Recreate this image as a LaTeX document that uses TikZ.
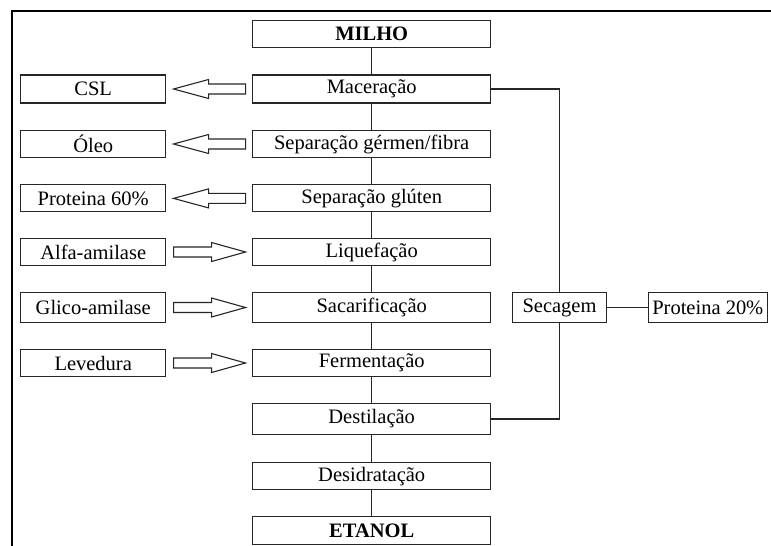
\documentclass[tikz,border=0pt]{standalone}
\usepackage{fontspec}
\setmainfont{Liberation Serif}
\usetikzlibrary{calc}
\tikzset{
  box/.style={draw=black!85, line width=1.1pt, fill=white, inner sep=0pt,
    font=\fontsize{20.5}{24}\selectfont, text=black},
  mainbox/.style={box, minimum width=238pt},
  sidebox/.style={box, minimum width=145pt},
  link/.style={draw=black!85, line width=1.1pt},
  fatarrow/.style={draw=black!85, line width=1.1pt, fill=white, line join=miter},
  frame/.style={draw=black, line width=2pt}
}
\begin{document}
\begin{tikzpicture}[x=1pt, y=-1pt]
\useasboundingbox (0,0) rectangle (771,546);
\draw[frame] (11.7,546) -- (11.7,10.5) -- (771,10.5);

% main column
\node[mainbox, minimum height=27pt] (milho) at (371.7,34) {\textbf{MILHO}};
\node[mainbox, minimum height=28pt] (mac) at (371.7,89) {Maceração};
\node[mainbox, minimum height=27pt] (sepg) at (371.7,144) {Separação gérmen/fibra};
\node[mainbox, minimum height=27pt] (sepgl) at (371.7,198.4) {Separação glúten};
\node[mainbox, minimum height=27pt] (liq) at (371.7,252) {Liquefação};
\node[mainbox, minimum height=30pt] (sac) at (371.7,307.5) {Sacarificação};
\node[mainbox, minimum height=27pt] (ferm) at (371.7,363) {Fermentação};
\node[mainbox, minimum height=31pt] (dest) at (371.7,419) {Destilação};
\node[mainbox, minimum height=27pt] (desid) at (371.7,476.3) {Desidratação};
\node[mainbox, minimum height=28pt] (etanol) at (371.7,530.5) {\textbf{ETANOL}};

% side boxes
\node[sidebox, minimum height=28pt] (csl) at (93.2,89) {CSL};
\node[sidebox, minimum height=27pt] (oleo) at (93.2,144) {Óleo};
\node[sidebox, minimum height=27pt] (prot60) at (93.2,198.4) {Proteina 60\%};
\node[sidebox, minimum height=27pt] (alfa) at (93.2,252) {Alfa-amilase};
\node[sidebox, minimum height=30pt] (glico) at (93.2,307.5) {Glico-amilase};
\node[sidebox, minimum height=27pt] (lev) at (93.2,363) {Levedura};

% right branch
\node[box, minimum width=94.4pt, minimum height=30pt] (sec) at (559.5,307.7) {Secagem};
\node[box, minimum width=119pt, minimum height=30pt] (prot20) at (707.8,307.7) {Proteina 20\%};

% vertical flow
\foreach \a/\b in {milho/mac, mac/sepg, sepg/sepgl, sepgl/liq, liq/sac, sac/ferm, ferm/dest, dest/desid, desid/etanol}
  \draw[link] (\a) -- (\b);

\draw[link] (mac.east) -| (sec.north);
\draw[link] (sec.south) |- (dest.east);
\draw[link] (sec) -- (prot20);

% outgoing block arrows (pointing left)
\foreach \s in {csl, oleo, prot60}
  \draw[fatarrow] ($(\s.east)+(7.3,0)$) -- ++(35,-9.5) -- ++(0,4.5) -- ++(37,0)
     -- ++(0,10) -- ++(-37,0) -- ++(0,4.5) -- cycle;

% incoming block arrows (pointing right)
\foreach \s in {alfa, glico, lev}
  \draw[fatarrow] ($(\s.east)+(7.3,-5)$) -- ++(38,0) -- ++(0,-4.5) -- ++(34,9.5)
     -- ++(-34,9.5) -- ++(0,-4.5) -- ++(-38,0) -- cycle;
\end{tikzpicture}
\end{document}
